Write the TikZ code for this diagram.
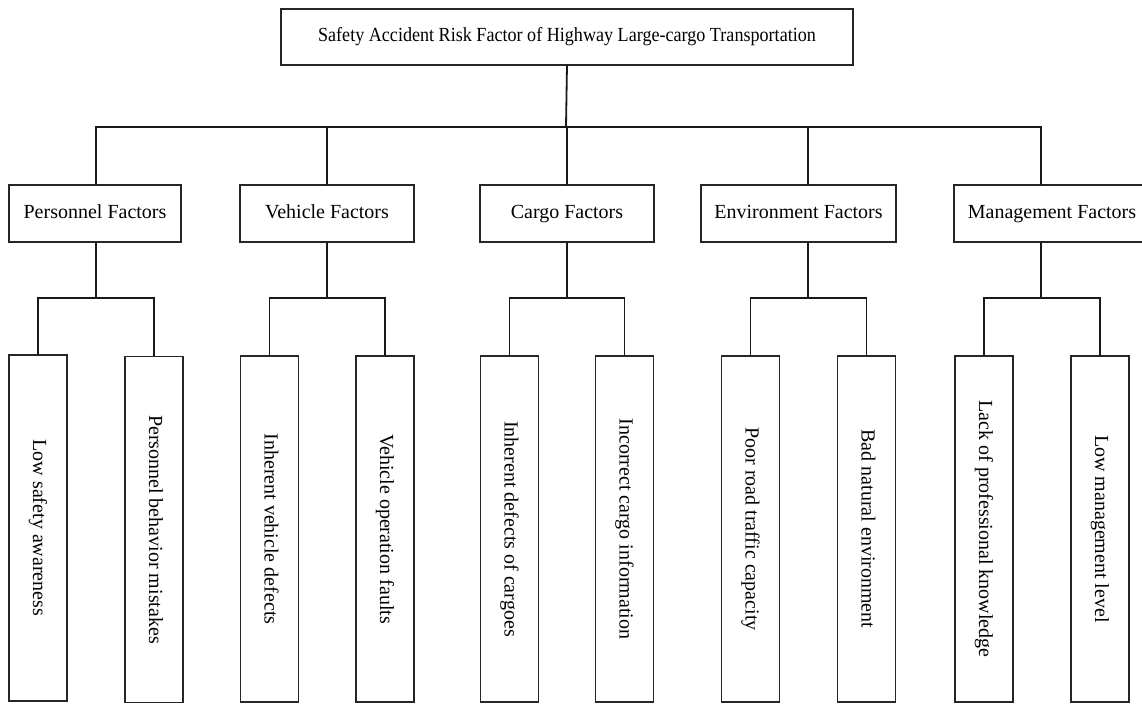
\documentclass[tikz,border=0pt]{standalone}
\usepackage{fontspec}
\setmainfont{Liberation Serif}
\usepackage{graphicx}
\newcommand{\vlabel}[1]{\rotatebox{-90}{\strut #1}}
\begin{document}
\begin{tikzpicture}[x=0.5pt,y=-0.5pt,
  every node/.style={inner sep=0pt, outer sep=0pt, font=\fontsize{10}{12}\selectfont},
  box/.style={draw=black!85, line width=0.9pt, rectangle, align=center},
  topbox/.style={box, minimum width=286pt, minimum height=28pt, text height=7pt, text depth=2.2pt},
  factorbox/.style={box, minimum height=28.5pt, text height=7pt, text depth=2.2pt},
  leafbox/.style={box, minimum width=29pt, minimum height=173pt},
  link/.style={draw=black!90, line width=0.9pt}]
\useasboundingbox (0,0) rectangle (1142,704);
\clip (0,0) rectangle (1142,704);

% root
\node[topbox] (root) at (567,37) {\scalebox{0.905}[1]{Safety Accident Risk Factor of Highway Large-cargo Transportation}};

% factor categories
\node[factorbox, minimum width=86pt]   (pers) at (95,213.5)   {Personnel Factors};
\node[factorbox, minimum width=87pt]   (veh)  at (327,213.5)  {Vehicle Factors};
\node[factorbox, minimum width=87pt]   (car)  at (567,213.5)  {Cargo Factors};
\node[factorbox, minimum width=97.5pt] (env)  at (798.5,213.5){Environment Factors};
\node[factorbox, minimum width=98pt]   (mgt)  at (1052,213.5) {Management Factors};

% individual risk factors
\node[leafbox] (p1) at (38,528)    {\vlabel{Low safety awareness}};
\node[leafbox] (p2) at (154,529.5) {\vlabel{Personnel behavior mistakes}};
\node[leafbox] (v1) at (269.5,529) {\vlabel{Inherent vehicle defects}};
\node[leafbox] (v2) at (385,529)   {\vlabel{Vehicle operation faults}};
\node[leafbox] (c1) at (509.5,529) {\vlabel{Inherent defects of cargoes}};
\node[leafbox] (c2) at (624.5,529) {\vlabel{Incorrect cargo information}};
\node[leafbox] (e1) at (750.5,529) {\vlabel{Poor road traffic capacity}};
\node[leafbox] (e2) at (866.5,529) {\vlabel{Bad natural environment}};
\node[leafbox] (m1) at (984,529)   {\vlabel{Lack of professional knowledge}};
\node[leafbox] (m2) at (1100,529)  {\vlabel{Low management level}};

% main bus
\coordinate (bus) at (566,127);
\draw[link] (root.south) -- (bus);
\draw[link] ([xshift=0.5pt]pers.north) |- (bus);
\draw[link] (veh.north) |- (bus);
\draw[link] (car.north) |- (bus);
\draw[link] ([xshift=4.75pt]env.north) |- (bus);
\draw[link] ([xshift=-5.5pt]mgt.north) |- (bus);

% branch junctions
\coordinate (pj) at (96,298);
\coordinate (vj) at (327,298);
\coordinate (cj) at (567,298);
\coordinate (ej) at (808,298);
\coordinate (mj) at (1041,298);

\draw[link] ([xshift=0.5pt]pers.south) -- (pj);
\draw[link] (p1.north) |- (pj);
\draw[link] (p2.north) |- (pj);

\draw[link] (veh.south) -- (vj);
\draw[link] (v1.north) |- (vj);
\draw[link] (v2.north) |- (vj);

\draw[link] (car.south) -- (cj);
\draw[link] (c1.north) |- (cj);
\draw[link] (c2.north) |- (cj);

\draw[link] ([xshift=4.75pt]env.south) -- (ej);
\draw[link] (e1.north) |- (ej);
\draw[link] (e2.north) |- (ej);

\draw[link] ([xshift=-5.5pt]mgt.south) -- (mj);
\draw[link] (m1.north) |- (mj);
\draw[link] (m2.north) |- (mj);
\end{tikzpicture}
\end{document}
